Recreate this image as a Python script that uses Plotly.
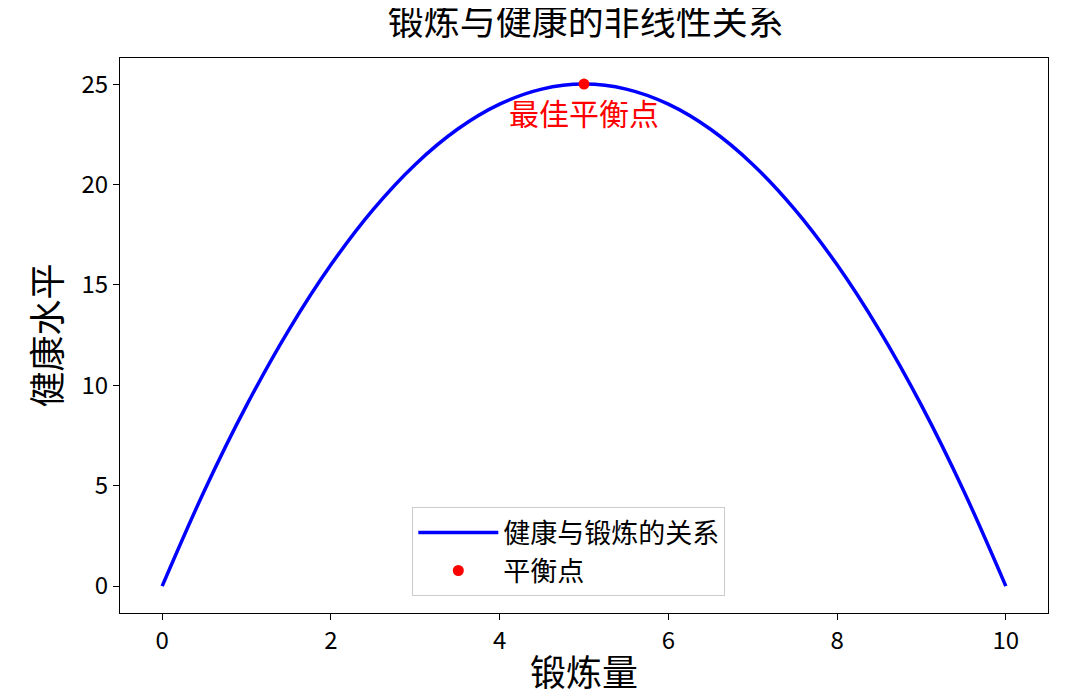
import plotly.graph_objects as go

x_vals = [0, 0.5, 1, 1.5, 2, 2.5, 3, 3.5, 4, 4.5, 5, 5.5, 6, 6.5, 7, 7.5, 8, 8.5, 9, 9.5, 10]
health = [0, 4.75, 9, 12.75, 16, 18.75, 21, 22.75, 24, 24.75, 25, 24.75, 24, 22.75, 21, 18.75, 16, 12.75, 9, 4.75, 0]
balance_x = [5]
balance_y = [25]
x_ticks = [0, 2, 4, 6, 8, 10]
y_ticks = [0, 5, 10, 15, 20, 25]

font = "Noto Sans CJK SC"
fig = go.Figure()
fig.add_trace(go.Scatter(x=x_vals, y=health, mode="lines", line=dict(color="blue", width=3.5, shape="spline"),
                         name="健康与锻炼的关系"))
fig.add_trace(go.Scatter(x=balance_x, y=balance_y, mode="markers", marker=dict(color="red", size=11),
                         name="平衡点"))
fig.add_annotation(x=balance_x[0], y=balance_y[0], text="最佳平衡点", showarrow=False, yshift=-28,
                   font=dict(color="red", size=30, family=font))
axis_common = dict(showgrid=False, zeroline=False, showline=True, linecolor="black", mirror=True,
                   ticks="outside", ticklen=6, tickcolor="black", tickfont=dict(size=24, color="black"),
                   automargin=False)
fig.update_xaxes(range=[-0.5, 10.5], tickvals=x_ticks, title=dict(text="锻炼量", font=dict(size=36), standoff=6), **axis_common)
fig.update_yaxes(range=[-1.34, 26.3], tickvals=y_ticks, title=dict(text="健康水平", font=dict(size=36), standoff=8), **axis_common)
fig.update_layout(
    width=1080, height=696, plot_bgcolor="white", paper_bgcolor="white",
    font=dict(family=font, color="black"),
    margin=dict(l=112, r=40, t=50, b=91, autoexpand=False),
    title=dict(text="锻炼与健康的非线性关系", x=0.535, xanchor="center", y=0.998, yanchor="top",
               font=dict(size=36)),
    legend=dict(x=0.315, y=0.03, xanchor="left", yanchor="bottom", bordercolor="#cccccc", borderwidth=1,
                font=dict(size=27), bgcolor="white", itemwidth=80, tracegroupgap=4),
)
fig.write_html("out.html")
